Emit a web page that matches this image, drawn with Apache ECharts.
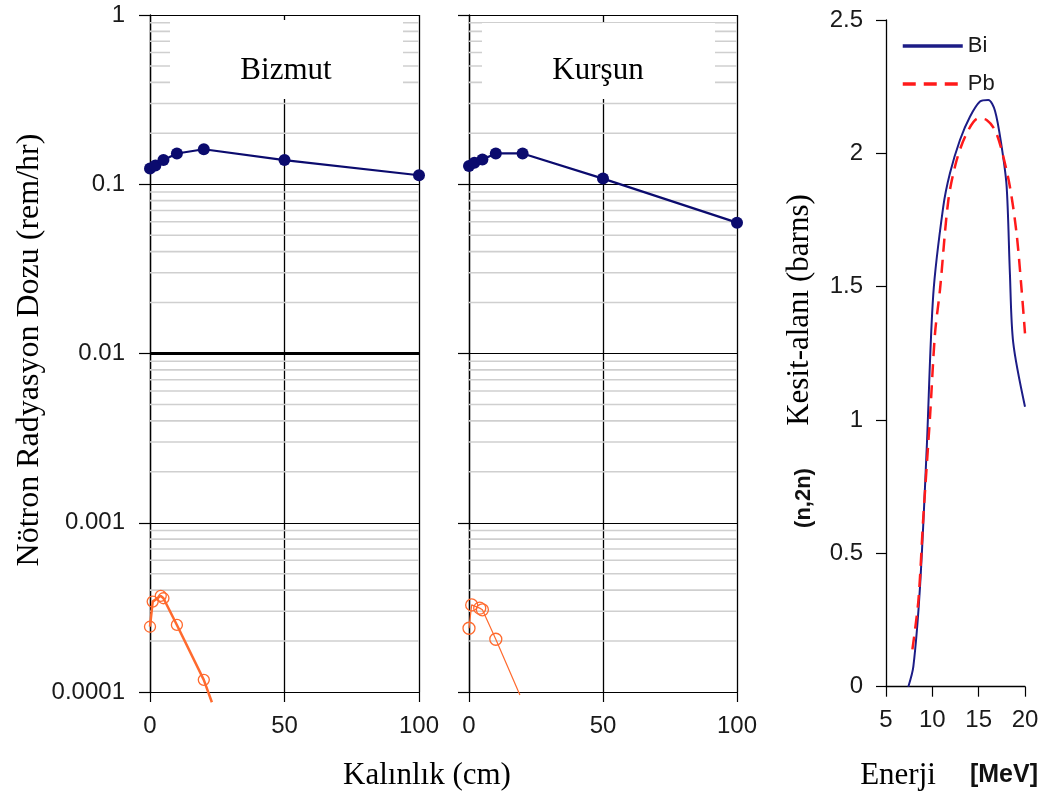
<!DOCTYPE html>
<html>
<head>
<meta charset="utf-8">
<script src="https://cdn.jsdelivr.net/npm/echarts@6/dist/echarts.min.js"></script>
<style>html,body{margin:0;padding:0;background:#fff;}#c{width:1049px;height:800px;}</style>
</head>
<body>
<div id="c"></div>
<script>
// ---- data ----
var thicknessBlue = [0, 2, 5, 10, 20, 50, 100];
var bizmutDose = [0.124, 0.129, 0.139, 0.152, 0.161, 0.139, 0.113];
var kursunDose = [0.128, 0.134, 0.140, 0.152, 0.152, 0.108, 0.0593];
var bizmutOrangeX = [0, 1, 4, 5, 10, 20, 23];
var bizmutOrangeDose = [0.000243, 0.000342, 0.00037, 0.000358, 0.000249, 0.000118, 0.000087];
var kursunOrangeX = [0, 1, 4, 5, 10, 19];
var kursunOrangeDose = [0.000238, 0.000327, 0.000313, 0.000306, 0.000205, 0.000096];
var biEnergy = [7.41, 7.95, 8.67, 9.39, 10.1, 11.18, 11.9, 12.98, 14.06, 15.14, 16.04, 16.76, 17.48, 18.02, 18.37, 18.73, 20.0];
var biXS = [0, 0.075, 0.375, 0.89, 1.47, 1.80, 1.925, 2.05, 2.137, 2.194, 2.20, 2.16, 2.025, 1.875, 1.55, 1.29, 1.05];
var pbEnergy = [7.85, 8.5, 9.03, 9.75, 10.29, 10.83, 11.73, 12.63, 13.71, 14.96, 15.86, 16.76, 17.48, 18.37, 19.09, 19.63, 20.0];
var pbXS = [0.14, 0.325, 0.6375, 1.0125, 1.325, 1.49, 1.825, 1.975, 2.075, 2.131, 2.125, 2.087, 2.012, 1.875, 1.7, 1.49, 1.325];
var doseTickLabels = ['0.0001', '0.001', '0.01', '0.1', '1'];
var thicknessTicks = ['0', '50', '100'];
var panelTitles = ['Bizmut', 'Kurşun'];
var minorMultipliers = [2, 3, 4, 5, 6, 7, 8, 9];
var decades = [0.0001, 0.001, 0.01, 0.1];
var thicknessRange = [0, 100];
var lastPointsWithoutMarker = 1; // line end below axis, no marker

// ---- helpers ----
function pairs(xs, ys) { return xs.map(function (x, i) { return [x, ys[i]]; }); }
function orangeData(xs, ys) {
  return xs.map(function (x, i) {
    var item = { value: [x, ys[i]] };
    if (i >= xs.length - lastPointsWithoutMarker) item.symbol = 'none';
    return item;
  });
}
var minorVals = [];
decades.forEach(function (d) { minorMultipliers.forEach(function (m) { minorVals.push(+(m * d).toPrecision(3)); }); });

var SANS = "'Liberation Sans', Arial, sans-serif";
var SERIF = "'Liberation Serif', 'Times New Roman', serif";
var LBL = '#1a1a1a';

function doseXAxis(idx) {
  return {
    type: 'value', gridIndex: idx, min: 0, max: 100, interval: 50,
    axisLine: { show: true, onZero: false, lineStyle: { color: '#000', width: 1.2 } },
    axisTick: { show: true, length: 10, lineStyle: { color: '#000', width: 1.2 } },
    axisLabel: { fontSize: 24, fontFamily: SANS, color: LBL, margin: 22,
      formatter: function (v) { return thicknessTicks[Math.round(v / 50)]; } },
    splitLine: { show: true, lineStyle: { color: '#000', width: 1.3 } }
  };
}
function doseYAxis(idx, showLabels) {
  return {
    type: 'log', logBase: 10, gridIndex: idx, min: 0.0001, max: 1,
    axisLine: { show: true, onZero: false, lineStyle: { color: '#000', width: 1.3 } },
    axisTick: { show: true, length: 11, lineStyle: { color: '#000', width: 1.2 } },
    axisLabel: { show: showLabels, fontSize: 24, fontFamily: SANS, color: LBL, margin: 25,
      formatter: function (v) { return doseTickLabels[Math.round(Math.log10(v)) + 4]; } },
    splitLine: { show: true, lineStyle: { color: '#000', width: 1.2 } },
    minorTick: { show: false }, minorSplitLine: { show: false }
  };
}
function minorSeries(idx) {
  return minorVals.map(function (v) {
    return {
      type: 'line', xAxisIndex: idx, yAxisIndex: idx, z: 1, silent: true, symbol: 'none',
      data: [[thicknessRange[0], v], [thicknessRange[1], v]],
      lineStyle: { color: '#cfcfcf', width: 1.6 }, tooltip: { show: false }
    };
  });
}

var series = [].concat(minorSeries(0), minorSeries(1), [
  { type: 'line', xAxisIndex: 0, yAxisIndex: 0, z: 2, symbol: 'none', silent: true,
    data: [[thicknessRange[0], 0.01], [thicknessRange[1], 0.01]], lineStyle: { color: '#000', width: 3 } },
  { name: 'Bizmut dose', type: 'line', xAxisIndex: 0, yAxisIndex: 0, z: 5,
    data: pairs(thicknessBlue, bizmutDose), symbol: 'circle', symbolSize: 12,
    lineStyle: { color: '#0b0b6e', width: 2.2 }, itemStyle: { color: '#0b0b6e' } },
  { name: 'Kursun dose', type: 'line', xAxisIndex: 1, yAxisIndex: 1, z: 5,
    data: pairs(thicknessBlue, kursunDose), symbol: 'circle', symbolSize: 12,
    lineStyle: { color: '#0b0b6e', width: 2.2 }, itemStyle: { color: '#0b0b6e' } },
  { name: 'Bizmut gamma', type: 'line', xAxisIndex: 0, yAxisIndex: 0, z: 5, clip: false,
    data: orangeData(bizmutOrangeX, bizmutOrangeDose), symbol: 'circle', symbolSize: 11,
    lineStyle: { color: '#ff6a2e', width: 2.5 },
    itemStyle: { color: 'rgba(255,255,255,0)', borderColor: '#ff6a2e', borderWidth: 1.3 } },
  { name: 'Kursun gamma', type: 'line', xAxisIndex: 1, yAxisIndex: 1, z: 5, clip: false,
    data: orangeData(kursunOrangeX, kursunOrangeDose), symbol: 'circle', symbolSize: 12,
    lineStyle: { color: '#ff6a2e', width: 1.2 },
    itemStyle: { color: 'rgba(255,255,255,0)', borderColor: '#ff6a2e', borderWidth: 1.3 } },
  { name: 'Bi', type: 'line', xAxisIndex: 2, yAxisIndex: 2, smooth: 0.3, symbol: 'none',
    data: pairs(biEnergy, biXS), lineStyle: { color: '#1c1c86', width: 2 }, itemStyle: { color: '#1c1c86' }, z: 4 },
  { name: 'Pb', type: 'line', xAxisIndex: 2, yAxisIndex: 2, smooth: 0.3, symbol: 'none',
    data: pairs(pbEnergy, pbXS), lineStyle: { color: '#ff1a1a', width: 2.5, type: [13, 8] }, itemStyle: { color: '#ff1a1a' }, z: 5 }
]);

var chart = echarts.init(document.getElementById('c'), null, { renderer: 'canvas' });
var option = {
  backgroundColor: '#fff',
  animation: false,
  grid: [
    { left: 150, top: 15, width: 269, height: 677 },
    { left: 469, top: 15, width: 268, height: 677 },
    { left: 886, top: 20, width: 139, height: 666.7 }
  ],
  xAxis: [
    doseXAxis(0), doseXAxis(1),
    { type: 'value', gridIndex: 2, min: 5, max: 20, interval: 5,
      axisLine: { show: true, onZero: false, lineStyle: { color: '#000', width: 1.3 } },
      axisTick: { show: true, length: 10, lineStyle: { color: '#000', width: 1.2 } },
      axisLabel: { fontSize: 24, fontFamily: SANS, color: LBL, margin: 22 },
      splitLine: { show: false } }
  ],
  yAxis: [
    doseYAxis(0, true), doseYAxis(1, false),
    { type: 'value', gridIndex: 2, min: 0, max: 2.5, interval: 0.5,
      axisLine: { show: true, onZero: false, lineStyle: { color: '#000', width: 1.3 } },
      axisTick: { show: true, length: 10, lineStyle: { color: '#000', width: 1.2 } },
      axisLabel: { fontSize: 24, fontFamily: SANS, color: LBL, margin: 23 },
      splitLine: { show: false } }
  ],
  legend: {
    data: ['Bi', 'Pb'], orient: 'vertical', left: 896, top: 30,
    itemWidth: 60, itemHeight: 14, itemGap: 16,
    itemStyle: { opacity: 0 },
    lineStyle: { width: 3.5 },
    textStyle: { fontSize: 22, fontFamily: SANS, color: LBL }
  },
  series: series,
  graphic: [
    { type: 'rect', z: 10, shape: { x: 170, y: 20, width: 233, height: 79 }, style: { fill: '#fff' } },
    { type: 'rect', z: 10, shape: { x: 482, y: 23, width: 233, height: 76 }, style: { fill: '#fff' } },
    { type: 'text', z: 11, x: 286, y: 71, style: { text: panelTitles[0], font: '31px ' + SERIF, fill: '#000', textAlign: 'center', textVerticalAlign: 'middle' } },
    { type: 'text', z: 11, x: 598, y: 71, style: { text: panelTitles[1], font: '31px ' + SERIF, fill: '#000', textAlign: 'center', textVerticalAlign: 'middle' } },
    { type: 'text', z: 11, x: 30, y: 350, rotation: Math.PI / 2, style: { text: 'Nötron Radyasyon Dozu (rem/hr)', font: '32px ' + SERIF, fill: '#000', textAlign: 'center', textVerticalAlign: 'middle' } },
    { type: 'text', z: 11, x: 427, y: 776, style: { text: 'Kalınlık (cm)', font: '31px ' + SERIF, fill: '#000', textAlign: 'center', textVerticalAlign: 'middle' } },
    { type: 'text', z: 11, x: 800, y: 310, rotation: Math.PI / 2, style: { text: 'Kesit-alanı (barns)', font: '31px ' + SERIF, fill: '#000', textAlign: 'center', textVerticalAlign: 'middle' } },
    { type: 'text', z: 11, x: 804, y: 498, rotation: Math.PI / 2, style: { text: '(n,2n)', font: 'bold 22px ' + SANS, fill: '#111', textAlign: 'center', textVerticalAlign: 'middle' } },
    { type: 'text', z: 11, x: 898, y: 776, style: { text: 'Enerji', font: '31px ' + SERIF, fill: '#000', textAlign: 'center', textVerticalAlign: 'middle' } },
    { type: 'text', z: 11, x: 1004, y: 775, style: { text: '[MeV]', font: 'bold 25px ' + SANS, fill: '#111', textAlign: 'center', textVerticalAlign: 'middle' } }
  ]
};
chart.setOption(option);
</script>
</body>
</html>
